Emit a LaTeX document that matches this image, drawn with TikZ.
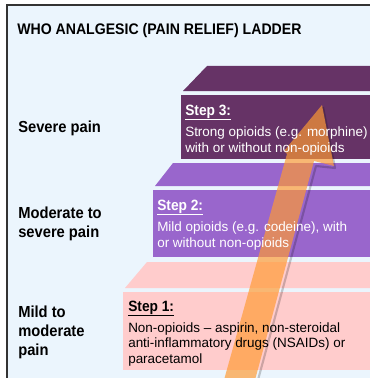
\documentclass[tikz,border=0pt]{standalone}
\usepackage{fontspec}
\setmainfont{Liberation Sans}
\newfontfamily\narrowfont{Liberation Sans}[FakeStretch=0.92]
\usetikzlibrary{positioning}
\definecolor{skybg}{RGB}{235,245,253}
\definecolor{stepone}{RGB}{255,204,204}
\definecolor{steptwo}{RGB}{153,102,204}
\definecolor{stepthree}{RGB}{102,51,102}
\definecolor{arroworange}{RGB}{255,155,50}

\begin{document}
\begin{tikzpicture}[x=0.75pt,y=-0.75pt,
    pain/.style={anchor=base west, align=left, inner sep=0pt,
        font=\narrowfont\fontsize{12}{14.2}\selectfont\bfseries},
    stephead/.style={anchor=base west, inner sep=0pt,
        font=\narrowfont\fontsize{11.2}{12}\selectfont\bfseries},
    stepbody/.style={anchor=base west, align=left, inner sep=0pt,
        font=\fontsize{10.1}{11.6}\selectfont}]

    \useasboundingbox (0,0) rectangle (370,378);
    \fill[white] (0,0) rectangle (370,378);
    \fill[skybg] (7,5) rectangle (375,385);
    \draw[line width=1.1pt, black!80] (7,385) -- (7,5) -- (375,5);

    \node[anchor=base west, inner sep=0pt, font=\narrowfont\fontsize{11.5}{12}\selectfont\bfseries]
        (title) at (17,35) {WHO ANALGESIC (PAIN RELIEF) LADDER};

    % the three steps: top face, then front face
    \foreach \col/\xf/\xt/\yt/\yf/\yb in {stepone/123/147/262/292/370,
                                          steptwo/153/173/163/190/257,
                                          stepthree/181/207/66/95/159}{
        \fill[\col] (\xt,\yt) -- (375,\yt) -- (375,\yf-4) -- (\xf+2,\yf-4) -- cycle;
        \fill[\col] (\xf,\yf) rectangle (375,\yb);
    }

    % the arrow up the ladder
    \draw[line width=1.6pt, black, opacity=0.2, line join=round]
        (258,380) -- (316,166) -- (335,168) -- (323,107);
    \fill[arroworange, fill opacity=0.68]
        (224,380) -- (287,154) -- (284,151) -- (322,105) -- (334,166) -- (314,161) -- (255,380) -- cycle;

    % last line sets the base
    \node[pain] (severe) at (18,132) {Severe pain};
    \node[pain] (moderate) at (18,237) {Moderate to\\severe pain};
    \node[pain] (mild) at (18,355) {Mild to\\moderate\\pain};

    \node[stephead, white] (hdrthree) at (185,115) {Step 3:};
    \node[stepbody, white] (txtthree) at (185,152) {Strong opioids (e.g. morphine)\\with or without non-opioids};
    \node[stephead, white] (hdrtwo) at (157,210) {Step 2:};
    \node[stepbody, white] (txttwo) at (157,247) {Mild opioids (e.g. codeine), with\\or without non-opioids};
    \node[stephead] (hdrone) at (128,311) {Step 1:};
    \node[stepbody] (txtone) at (128,363) {Non-opioids -- aspirin, non-steroidal\\anti-inflammatory drugs (NSAIDs) or\\paracetamol};

    \foreach \h/\c in {hdrthree/white, hdrtwo/white, hdrone/black}{
        \draw[\c, line width=0.9pt] ([yshift=-3.3pt]\h.base west) -- ([yshift=-3.3pt]\h.base east);
    }

\end{tikzpicture}
\end{document}
